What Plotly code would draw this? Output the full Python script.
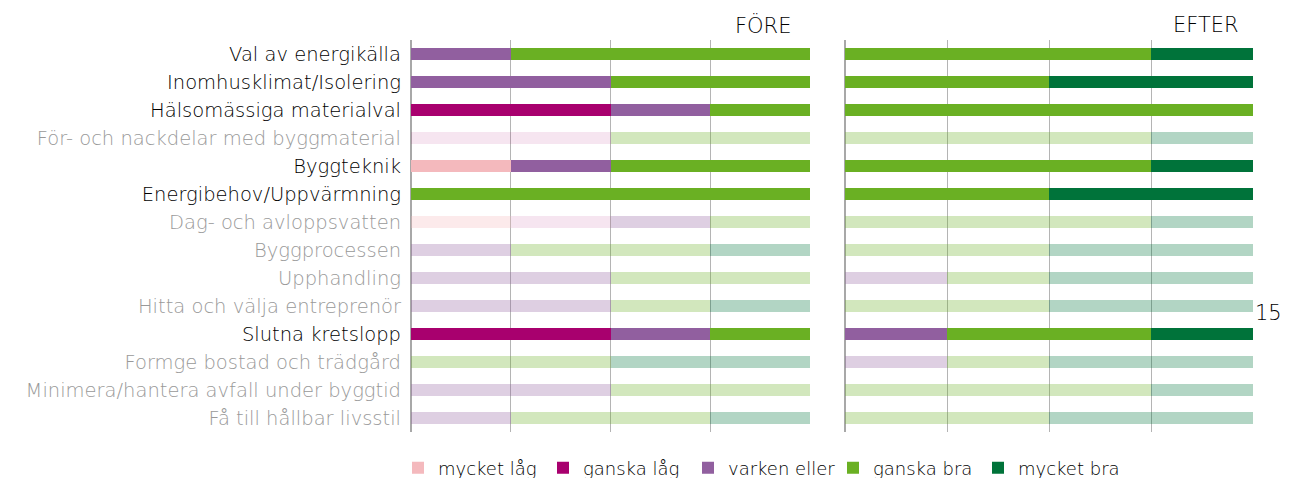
import plotly.graph_objects as go

categories = [
    "Val av energikälla", "Inomhusklimat/Isolering", "Hälsomässiga materialval",
    "För- och nackdelar med byggmaterial", "Byggteknik", "Energibehov/Uppvärmning",
    "Dag- och avloppsvatten", "Byggprocessen", "Upphandling",
    "Hitta och välja entreprenör", "Slutna kretslopp", "Formge bostad och trädgård",
    "Minimera/hantera avfall under byggtid", "Få till hållbar livsstil",
]
highlighted = [True, True, True, False, True, True, False, False, False, False, True, False, False, False]

levels = ["mycket låg", "ganska låg", "varken eller", "ganska bra", "mycket bra"]
colors = ["#f4b9bd", "#a8006e", "#915f9f", "#6ab023", "#00733a"]
faded = ["rgba(244,185,189,0.3)", "rgba(168,0,110,0.1)", "rgba(145,95,159,0.3)",
         "rgba(106,176,35,0.3)", "rgba(0,115,58,0.3)"]

# counts per level (rows follow categories)
fore = {
    "mycket låg":   [0, 0, 0, 0, 1, 0, 1, 0, 0, 0, 0, 0, 0, 0],
    "ganska låg":   [0, 0, 2, 2, 0, 0, 1, 0, 0, 0, 2, 0, 0, 0],
    "varken eller": [1, 2, 1, 0, 1, 0, 1, 1, 2, 2, 1, 0, 2, 1],
    "ganska bra":   [3, 2, 1, 2, 2, 4, 1, 2, 2, 1, 1, 2, 2, 2],
    "mycket bra":   [0, 0, 0, 0, 0, 0, 0, 1, 0, 1, 0, 2, 0, 1],
}
efter = {
    "mycket låg":   [0, 0, 0, 0, 0, 0, 0, 0, 0, 0, 0, 0, 0, 0],
    "ganska låg":   [0, 0, 0, 0, 0, 0, 0, 0, 0, 0, 0, 0, 0, 0],
    "varken eller": [0, 0, 0, 0, 0, 0, 0, 0, 1, 0, 1, 1, 0, 0],
    "ganska bra":   [3, 2, 4, 3, 3, 2, 3, 2, 1, 2, 2, 1, 3, 2],
    "mycket bra":   [1, 2, 0, 1, 1, 2, 1, 2, 2, 2, 1, 2, 1, 2],
}

panel_titles = ["FÖRE", "EFTER"]

FONT = "DejaVu Sans"
fig = go.Figure()

for pi, (data, xa) in enumerate([(fore, "x"), (efter, "x2")]):
    for li, lev in enumerate(levels):
        cols = [colors[li] if h else faded[li] for h in highlighted]
        fig.add_trace(go.Bar(
            y=categories, x=data[lev], orientation="h", name=lev,
            marker=dict(color=cols, line=dict(width=0)),
            width=0.4, xaxis=xa, yaxis="y",
            legendgroup=lev, showlegend=(pi == 0),
            hoverinfo="name+x+y",
        ))

ticktext = [
    (f'<span style="color:#000000">{c}</span>' if h else f'<span style="color:#999999">{c}</span>')
    for c, h in zip(categories, highlighted)
]

W, H = 1277, 470
OFF = 8  # page body margin
def px(x):
    return (x - OFF) / W
def py(y):
    return 1 - (y - OFF) / H

xdom1 = [px(411), px(810)]
xdom2 = [px(845), px(1253)]
ydom = [py(432), py(40)]

xcommon = dict(range=[0, 4], dtick=1, showgrid=True, gridcolor="#b4b4b4", gridwidth=1,
               showticklabels=False, zeroline=True, zerolinecolor="#a8a8a8", zerolinewidth=2,
               fixedrange=True)

fig.update_layout(
    width=W, height=H,
    margin=dict(l=0, r=0, t=0, b=0, autoexpand=False),
    barmode="stack", bargap=0,
    plot_bgcolor="white", paper_bgcolor="white",
    font=dict(family=FONT, size=18, color="#000000", weight=200),
    xaxis=dict(domain=xdom1, anchor="y", **xcommon),
    xaxis2=dict(domain=xdom2, anchor="y", **xcommon),
    yaxis=dict(domain=ydom, type="category", categoryorder="array",
               categoryarray=categories[::-1], tickvals=categories, ticktext=ticktext,
               showgrid=False, ticks="", ticklabelstandoff=9,
               tickfont=dict(family=FONT, size=19.5, weight=200), anchor="x"),
    legend=dict(orientation="h", x=px(398), xanchor="left", y=py(468), yanchor="middle",
                font=dict(family=FONT, size=18, weight=200, color="#000000"), itemwidth=30,
                traceorder="normal", entrywidth=100, entrywidthmode="pixels", tracegroupgap=0,
                bgcolor="rgba(0,0,0,0)"),
)

fig.add_annotation(text=panel_titles[0], xref="paper", yref="paper", x=px(793), y=py(25),
                   xanchor="right", yanchor="middle", showarrow=False,
                   font=dict(family=FONT, size=21, color="#000000", weight=200))
fig.add_annotation(text=panel_titles[1], xref="paper", yref="paper", x=px(1241), y=py(25),
                   xanchor="right", yanchor="middle", showarrow=False,
                   font=dict(family=FONT, size=21, color="#000000", weight=200))
fig.add_annotation(text="15", xref="paper", yref="paper", x=px(1284), y=py(313),
                   xanchor="right", yanchor="middle", showarrow=False,
                   font=dict(family=FONT, size=21, color="#000000", weight=200))

fig.write_html("out.html")
